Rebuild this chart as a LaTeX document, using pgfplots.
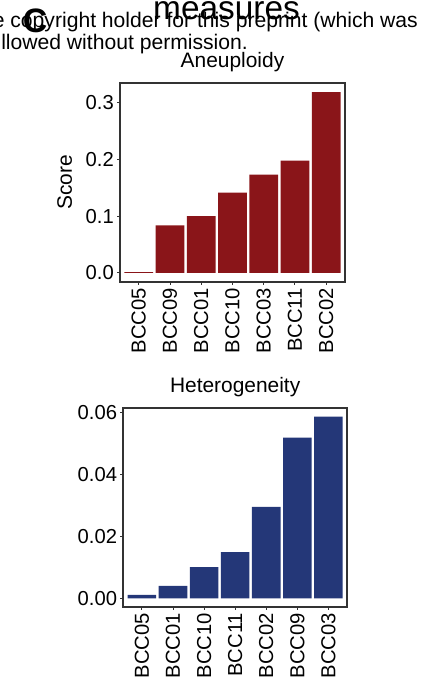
\documentclass[border=0pt]{standalone}
\usepackage{pgfplots}
\pgfplotsset{compat=1.18}
\usepackage{fontspec}
\setmainfont{Liberation Sans}
\definecolor{barred}{HTML}{8A1519}
\definecolor{barblue}{HTML}{243778}
\definecolor{framegray}{HTML}{333333}
\begin{document}
\begin{tikzpicture}[x=1bp,y=1bp]
\useasboundingbox (0,0) rectangle (440,693);
\begin{scope}
\clip (0,0) rectangle (440,693);
% overlapping header text from the source page
\node[anchor=base east,font=\fontsize{21.2}{24}\selectfont,inner sep=0pt] at (418,665) {e copyright holder for this preprint (which was};
\node[anchor=base east,font=\fontsize{21.2}{24}\selectfont,inner sep=0pt] at (248,643) {llowed without permission.};
\node[anchor=base,font=\fontsize{33.5}{36}\selectfont,inner sep=0pt] at (226.5,673) {measures};
\node[anchor=base,font=\bfseries\fontsize{34}{36}\selectfont,inner sep=0pt] at (35,660) {C};
\end{scope}
\pgfplotsset{
  panel/.style={
    scale only axis,
    anchor=south west,
    xmin=0.4, xmax=7.6,
    xtick={1,2,3,4,5,6,7},
    axis line style={framegray,line width=1.8bp},
    tick style={framegray,line width=1bp},
    major tick length=3bp,
    tick align=outside,
    xtick pos=bottom, ytick pos=left,
    ticklabel style={font=\fontsize{20.3}{22}\selectfont, text=black},
    x tick label style={rotate=90, anchor=east, inner sep=3bp},
    y tick label style={inner sep=3bp},
    scaled y ticks=false,
    /pgf/number format/assume math mode=true,
    /pgf/number format/fixed,
    /pgf/number format/fixed zerofill,
    title style={font=\fontsize{21}{24}\selectfont, inner sep=2bp, yshift=3bp},
    ylabel style={font=\fontsize{21}{24}\selectfont},
  },
}
% Top panel: Aneuploidy
\begin{axis}[panel,
  at={(120bp,411bp)}, width=225bp, height=199bp,
  ymin=-0.016, ymax=0.335,
  ytick={0,0.1,0.2,0.3},
  yticklabel style={/pgf/number format/precision=1},
  xticklabels={BCC05,BCC09,BCC01,BCC10,BCC03,BCC11,BCC02},
  title={Aneuploidy},
  ylabel={Score},
  ylabel style={yshift=7bp},
]
\addplot[ybar, bar width=0.92, bar shift=0, fill=barred, draw=none] coordinates {
(1,0.0015) (2,0.084) (3,0.100) (4,0.1415) (5,0.1735) (6,0.198) (7,0.319)
};
\end{axis}
% Bottom panel: Heterogeneity
\begin{axis}[panel,
  at={(123.3bp,86.3bp)}, width=223.7bp, height=199bp,
  ymin=-0.0027, ymax=0.0617,
  ytick={0,0.02,0.04,0.06},
  yticklabel style={/pgf/number format/precision=2},
  xticklabels={BCC05,BCC01,BCC10,BCC11,BCC02,BCC09,BCC03},
  title={Heterogeneity},
]
\addplot[ybar, bar width=0.92, bar shift=0, fill=barblue, draw=none] coordinates {
(1,0.0011) (2,0.0040) (3,0.0101) (4,0.0150) (5,0.0296) (6,0.0520) (7,0.0588)
};
\end{axis}
\end{tikzpicture}
\end{document}
